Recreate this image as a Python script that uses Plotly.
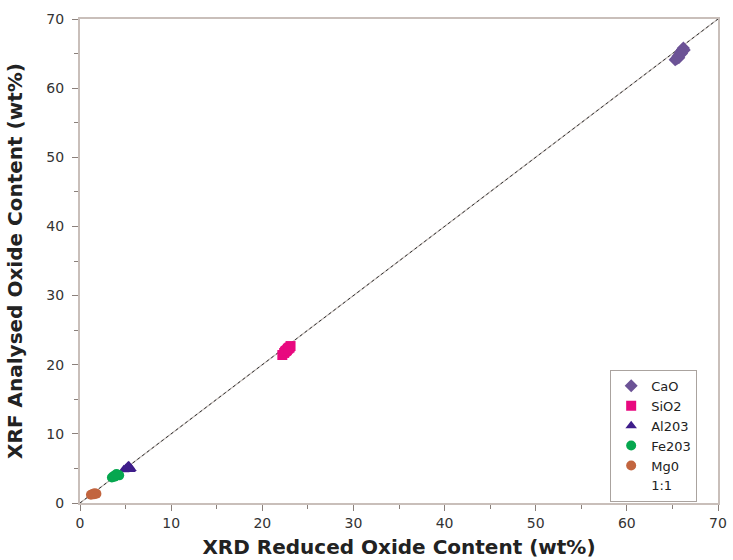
import plotly.graph_objects as go

# Oxide contents (wt%): XRD-reduced (x) vs XRF-analysed (y)
cao_x = [65.3, 65.5, 65.6, 65.8, 65.9, 66.0, 66.1, 66.2, 66.3, 65.7, 65.4, 66.0]
cao_y = [64.1, 64.3, 64.6, 64.9, 65.2, 65.4, 65.6, 65.8, 65.5, 64.4, 64.2, 65.0]

sio2_x = [22.2, 22.4, 22.5, 22.7, 22.8, 23.0, 23.1, 22.6, 22.9]
sio2_y = [21.4, 21.7, 21.9, 22.1, 22.3, 22.5, 22.7, 22.0, 22.4]

al2o3_x = [4.8, 5.0, 5.2, 5.4, 5.6, 5.1, 5.3, 5.5]
al2o3_y = [4.8, 5.0, 5.2, 5.3, 5.0, 4.9, 5.4, 4.85]

fe2o3_x = [3.5, 3.7, 3.9, 4.1, 4.3, 3.8, 4.0]
fe2o3_y = [3.7, 3.9, 4.0, 4.1, 4.0, 3.8, 4.2]

mgo_x = [1.2, 1.4, 1.6, 1.8, 1.5]
mgo_y = [1.2, 1.3, 1.4, 1.35, 1.25]

one_to_one = [0, 70]
tick_vals = [0, 10, 20, 30, 40, 50, 60, 70]

series = [
    ("CaO", cao_x, cao_y, "diamond", "#6c5396"),
    ("SiO2", sio2_x, sio2_y, "square", "#e8097f"),
    ("Al203", al2o3_x, al2o3_y, "triangle-up", "#3e1d8a"),
    ("Fe203", fe2o3_x, fe2o3_y, "circle", "#06a74f"),
    ("Mg0", mgo_x, mgo_y, "circle", "#c2653f"),
]

FONT = "DejaVu Sans, Verdana, sans-serif"

fig = go.Figure()

# 1:1 reference line: pale solid line with a dark dotted overlay
fig.add_trace(go.Scatter(x=one_to_one, y=one_to_one, mode="lines",
                         line=dict(color="#c4bcb8", width=1.2),
                         showlegend=False, hoverinfo="skip"))
fig.add_trace(go.Scatter(x=one_to_one, y=one_to_one, mode="lines",
                         line=dict(color="#333333", width=1, dash="dot"),
                         showlegend=False, hoverinfo="skip"))

for name, xs, ys, sym, col in series:
    fig.add_trace(go.Scatter(x=xs, y=ys, mode="markers", name=name,
                             marker=dict(symbol=sym, color=col, size=10,
                                         line=dict(width=0))))

# legend-only entry for the 1:1 line
fig.add_trace(go.Scatter(x=[None], y=[None], mode="lines", name="1:1",
                         line=dict(color="rgba(0,0,0,0)", width=1)))

axis_common = dict(
    range=[0, 70], tickvals=tick_vals, ticks="outside", ticklen=6,
    tickcolor="#8a807b", tickwidth=1, automargin=False,
    showline=True, linecolor="#c9bfba", linewidth=2, mirror=True,
    showgrid=False, zeroline=False,
    tickfont=dict(size=14, color="#333333", family=FONT),
    minor=dict(dtick=5, ticks="outside", ticklen=4, tickcolor="#8a807b"),
)

fig.update_layout(
    width=733, height=560,
    margin=dict(l=80, r=15, t=19, b=57),
    paper_bgcolor="white", plot_bgcolor="white",
    font=dict(family=FONT, color="#222222"),
    xaxis=dict(**axis_common,
               title=dict(text="<b>XRD Reduced Oxide Content (wt%)</b>",
                          font=dict(size=20, color="#222222", family=FONT),
                          standoff=10)),
    yaxis=dict(**axis_common,
               ticklabelstandoff=5,
               title=dict(text="<b>XRF Analysed Oxide Content (wt%)</b>",
                          font=dict(size=20, color="#222222", family=FONT),
                          standoff=18)),
    legend=dict(x=0.831, y=0.275, xanchor="left", yanchor="top",
                bordercolor="#aaa39f", borderwidth=1, bgcolor="white",
                font=dict(size=13, color="#222222", family=FONT),
                tracegroupgap=0, itemwidth=30),
)

fig.write_html("out.html")
